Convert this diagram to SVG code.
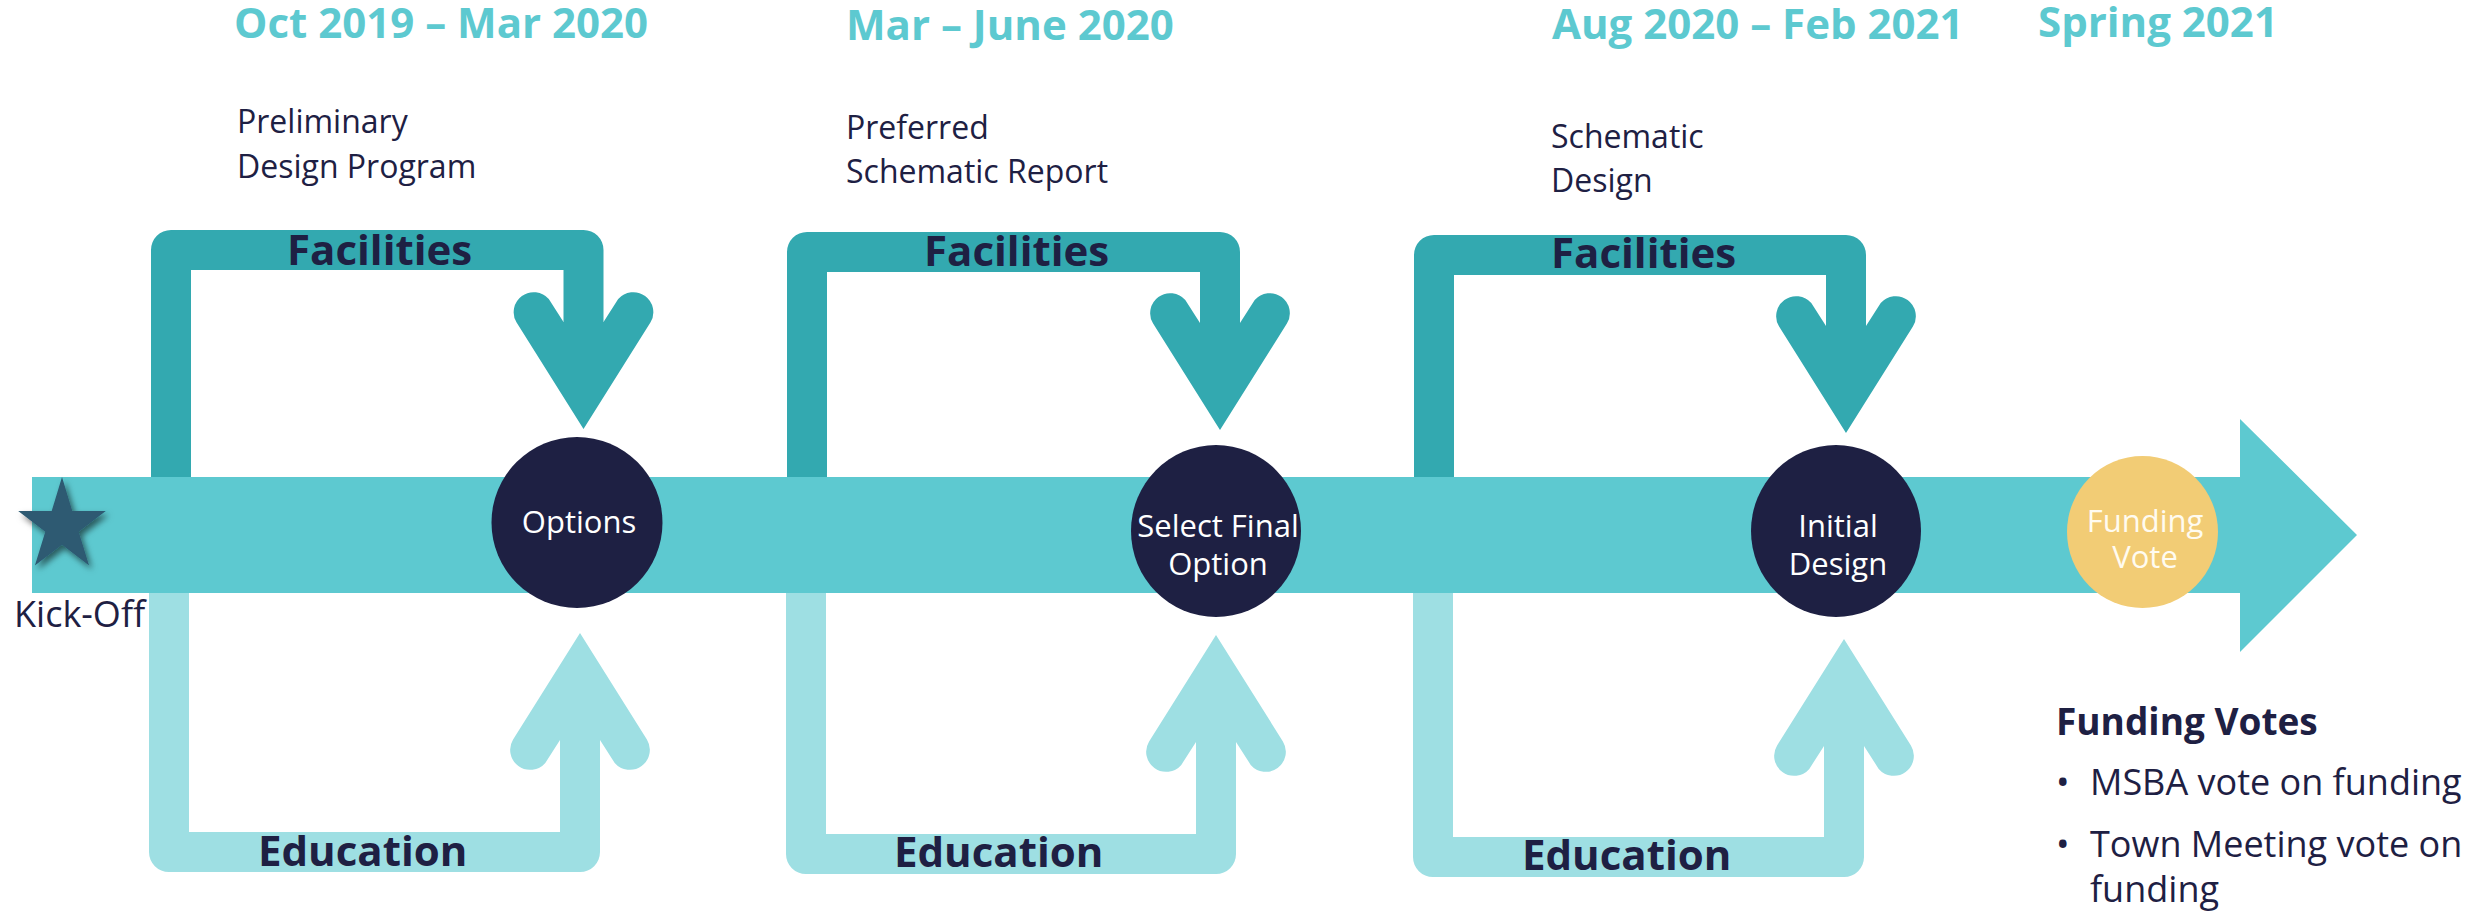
<svg xmlns="http://www.w3.org/2000/svg" xmlns:xlink="http://www.w3.org/1999/xlink" width="2483" height="912" viewBox="0 0 2483 912">
<defs>
<style>
text{font-family:"Open Sans","Liberation Sans",sans-serif;}
.head{font-size:42px;font-weight:700;fill:#5DC9D0;}
.sub{font-size:32px;fill:#1E2043;}
.lbl{font-size:42px;font-weight:700;fill:#1E2043;}
.node{font-size:31px;fill:#FFFFFF;text-anchor:middle;}
.fac{fill:none;stroke:#33A9B0;stroke-width:40;stroke-linejoin:round;}
.edu{fill:none;stroke:#9EDFE3;stroke-width:40;stroke-linejoin:round;}
.bul{font-size:36px;fill:#1E2043;}
</style>
<path id="ah" d="M0 0 L66.9 106.4 A20 20 0 0 1 34.7 129.9 L20 107 L-20 107 L-34.7 129.9 A20 20 0 0 1 -66.9 106.4 Z"/>
<filter id="sh" x="-30%" y="-30%" width="170%" height="170%">
<feDropShadow dx="3" dy="4" stdDeviation="3" flood-color="#000" flood-opacity="0.55"/>
</filter>
</defs>
<rect width="2483" height="912" fill="#FFFFFF"/>

<g id="headings">
<text class="head" x="234" y="38">Oct 2019 – Mar 2020</text>
<text class="head" x="846" y="40">Mar – June 2020</text>
<text class="head" x="1552" y="39">Aug 2020 – Feb 2021</text>
<text class="head" x="2038" y="37">Spring 2021</text>
<text class="sub" x="237" y="133">Preliminary</text>
<text class="sub" x="237" y="178">Design Program</text>
<text class="sub" x="846" y="139">Preferred</text>
<text class="sub" x="846" y="183">Schematic Report</text>
<text class="sub" x="1551" y="148">Schematic</text>
<text class="sub" x="1551" y="192">Design</text>
</g>

<g id="connectors">
<g id="facilities">
<path class="fac" d="M171 480 V250 H583.5 V335"/>
<use href="#ah" fill="#33A9B0" transform="translate(583.5,429) scale(1,-1)"/>
<path class="fac" d="M807 480 V252 H1220 V335"/>
<use href="#ah" fill="#33A9B0" transform="translate(1220,430) scale(1,-1)"/>
<path class="fac" d="M1434 480 V255 H1846 V338"/>
<use href="#ah" fill="#33A9B0" transform="translate(1846,433) scale(1,-1)"/>
<text class="lbl" x="287" y="265">Facilities</text>
<text class="lbl" x="924" y="266">Facilities</text>
<text class="lbl" x="1551" y="268">Facilities</text>
</g>
<g id="education">
<path class="edu" d="M169 590 V852 H580 V730"/>
<use href="#ah" fill="#9EDFE3" transform="translate(580,633)"/>
<path class="edu" d="M806 590 V854 H1216 V732"/>
<use href="#ah" fill="#9EDFE3" transform="translate(1216,635)"/>
<path class="edu" d="M1433 590 V857 H1844 V736"/>
<use href="#ah" fill="#9EDFE3" transform="translate(1844,639)"/>
<text class="lbl" x="258" y="866">Education</text>
<text class="lbl" x="894" y="867">Education</text>
<text class="lbl" x="1522" y="870">Education</text>
</g>
<polygon id="timeline" points="32,477 2240,477 2240,419 2357,535 2240,652 2240,593 32,593" fill="#5DC9D0"/>
</g>

<g id="node-kickoff">
<polygon points="62,477 72.3,510.9 105.8,510.9 78.7,531.8 89.1,565.6 62,544.7 34.9,565.6 45.3,531.8 18.2,510.9 51.7,510.9" fill="#2D5A72" filter="url(#sh)"/>
<text x="14" y="627" style="font-size:36px;fill:#1E2043;">Kick-Off</text>
</g>

<g id="node-options">
<circle cx="577" cy="522.5" r="85.5" fill="#1E2043"/>
<text class="node" x="579" y="533">Options</text>
</g>

<g id="node-select">
<ellipse cx="1216" cy="531" rx="85" ry="86" fill="#1E2043"/>
<text class="node" x="1218" y="537">Select Final</text>
<text class="node" x="1218" y="575">Option</text>
</g>

<g id="node-initial">
<ellipse cx="1836" cy="531" rx="85" ry="86" fill="#1E2043"/>
<text class="node" x="1838" y="537">Initial</text>
<text class="node" x="1838" y="575">Design</text>
</g>

<g id="node-funding">
<ellipse cx="2142.5" cy="532" rx="75.5" ry="76" fill="#F2CC75"/>
<text class="node" x="2145" y="532" style="fill:#FFFBF0;">Funding</text>
<text class="node" x="2145" y="568" style="fill:#FFFBF0;">Vote</text>
</g>

<g id="funding-votes">
<text x="2056" y="735" style="font-size:37px;font-weight:700;fill:#1E2043;">Funding Votes</text>
<text class="bul" x="2056" y="795">•</text>
<text class="bul" x="2090" y="795">MSBA vote on funding</text>
<text class="bul" x="2056" y="857">•</text>
<text class="bul" x="2090" y="857">Town Meeting vote on</text>
<text class="bul" x="2090" y="902">funding</text>
</g>
</svg>
